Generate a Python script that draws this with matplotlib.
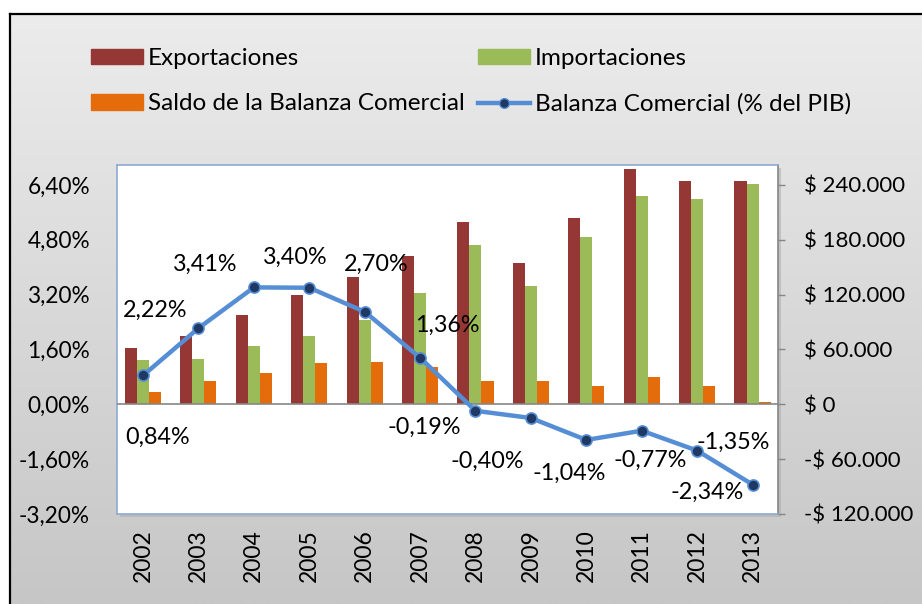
import matplotlib
matplotlib.use("Agg")
import matplotlib.pyplot as plt
import numpy as np
from matplotlib.patches import Rectangle
from matplotlib.lines import Line2D
from matplotlib.ticker import FuncFormatter, FixedLocator
from matplotlib.colors import LinearSegmentedColormap

years = ["2002", "2003", "2004", "2005", "2006", "2007", "2008", "2009", "2010", "2011", "2012", "2013"]
exportaciones = [61800, 74500, 97800, 119600, 138900, 162200, 199600, 154200, 203300, 257500, 244400, 244000]
importaciones = [48000, 49100, 64000, 74900, 92700, 121800, 174500, 129100, 182900, 228000, 224700, 241100]
saldo = [13800, 25400, 33800, 44700, 46200, 40400, 25100, 25100, 20400, 29500, 19700, 2900]
balanza_pib = [0.84, 2.22, 3.41, 3.40, 2.70, 1.36, -0.19, -0.40, -1.04, -0.77, -1.35, -2.34]
pct_ticks = [-3.2, -1.6, 0.0, 1.6, 3.2, 4.8, 6.4]
usd_ticks = [-120000, -60000, 0, 60000, 120000, 180000, 240000]

# label offsets in pixels (layout only)
label_offsets = [(15, -62), (-43, 18), (-49, 23), (-14, 30), (12, 47), (27, 32),
                 (-51, -17), (-44, -43), (-17, -33), (8, -30), (36, 8), (-45, -8)]

FONT = ["Lato", "DejaVu Sans"]
plt.rcParams["font.family"] = FONT

W, H = 922, 604
fig = plt.figure(figsize=(W / 100, H / 100), dpi=100)
fig.patch.set_facecolor("white")

# background gradient inside chart border
bg = fig.add_axes([10 / W, 0, 1 - 10 / W, (H - 14) / H], zorder=-10)
grad = np.linspace(0, 1, 256).reshape(-1, 1)
cmap = LinearSegmentedColormap.from_list("g", ["#ececec", "#c6c6c6"])
bg.imshow(grad, aspect="auto", cmap=cmap, extent=[0, 1, 0, 1], origin="upper")
bg.set_xlim(0, 1); bg.set_ylim(0, 1)
bg.set_xticks([]); bg.set_yticks([])
for s in bg.spines.values():
    s.set_visible(False)
for side in ["left", "top"]:
    bg.spines[side].set_visible(True)
    bg.spines[side].set_linewidth(1.6)
    bg.spines[side].set_color("black")

L, R, T, B = 117, 778, 165, 514
rect = [L / W, 1 - B / H, (R - L) / W, (B - T) / H]

# shadow
sh = fig.add_axes([(L + 3) / W, 1 - (B + 3) / H, (R - L) / W, (B - T) / H], zorder=-5)
sh.set_facecolor("#a8a8a8"); sh.set_xticks([]); sh.set_yticks([])
for s in sh.spines.values():
    s.set_visible(False)
sh.patch.set_alpha(0.5)

ax = fig.add_axes(rect)
ax2 = ax.twinx()
ax.set_facecolor("white")
x = np.arange(len(years))
bw = 0.217
ax.bar(x - bw, exportaciones, bw, color="#953735", label="Exportaciones", zorder=2)
ax.bar(x, importaciones, bw, color="#9bbb59", label="Importaciones", zorder=2)
ax.bar(x + bw, saldo, bw, color="#e46c0a", label="Saldo de la Balanza Comercial", zorder=2)
ax.set_xlim(-0.47, 11.46)
ax.set_ylim(-120000, 261800)
ax.axhline(0, color="#868686", lw=1.2, zorder=3)

def usd(v, pos=None):
    s = f"{abs(v):,.0f}".replace(",", ".")
    return ("-$ " if v < 0 else "$ ") + s

ax.yaxis.tick_right()
ax.yaxis.set_label_position("right")
ax.yaxis.set_major_locator(FixedLocator(usd_ticks))
ax.yaxis.set_major_formatter(FuncFormatter(usd))
ax.tick_params(axis="y", which="both", left=False, labelleft=False, right=True, labelright=True,
               length=5, width=1, color="#868686", pad=14, labelsize=16)
ax.set_xticks(x)
ax.set_xticklabels(years, rotation=90, fontsize=16.5)
ax.tick_params(axis="x", length=0, pad=11)
for side in ["top", "left", "bottom"]:
    ax.spines[side].set_color("#8eaad0")
    ax.spines[side].set_linewidth(1.2)
ax.spines["right"].set_color("#868686")
ax.spines["right"].set_linewidth(1.2)

ax2.set_ylim(-3.2, 6.98)
ax2.yaxis.tick_left()
ax2.yaxis.set_major_locator(FixedLocator(pct_ticks))
ax2.yaxis.set_major_formatter(FuncFormatter(lambda v, p: f"{v:.2f}%".replace(".", ",")))
ax2.tick_params(axis="y", which="both", right=False, labelright=False, left=True, labelleft=True,
                length=0, pad=19.5, labelsize=16.3)
for s in ax2.spines.values():
    s.set_visible(False)
ax2.plot(x, balanza_pib, color="#558ed5", lw=3.2, marker="o", markersize=8,
         markerfacecolor="#1f3864", markeredgecolor="#558ed5", markeredgewidth=1.2,
         label="Balanza Comercial (% del PIB)", zorder=5)
for xi, v, (dx, dy) in zip(x, balanza_pib, label_offsets):
    ax2.annotate(f"{v:.2f}%".replace(".", ","), (xi, v), xytext=(dx, dy),
                 textcoords="offset pixels", ha="center", va="center", fontsize=16.8)

# legend
handles = [Rectangle((0, 0), 1, 1, color="#953735"),
           Rectangle((0, 0), 1, 1, color="#9bbb59"),
           Rectangle((0, 0), 1, 1, color="#e46c0a"),
           Line2D([0], [0], color="#558ed5", lw=3.2, marker="o", markersize=7,
                  markerfacecolor="#1f3864", markeredgecolor="#558ed5")]
labels = ["Exportaciones", "Importaciones", "Saldo de la Balanza Comercial", "Balanza Comercial (% del PIB)"]
order = [0, 2, 1, 3]
fig.legend([handles[i] for i in order], [labels[i] for i in order], ncol=2,
           loc="upper left", bbox_to_anchor=(79 / W, 1 - 36 / H), frameon=False,
           fontsize=17.5, handlelength=2.14, handleheight=0.62, handletextpad=0.2,
           columnspacing=0.55, labelspacing=1.0, borderpad=0)

fig.savefig("out.png", dpi=100, facecolor=fig.get_facecolor())
